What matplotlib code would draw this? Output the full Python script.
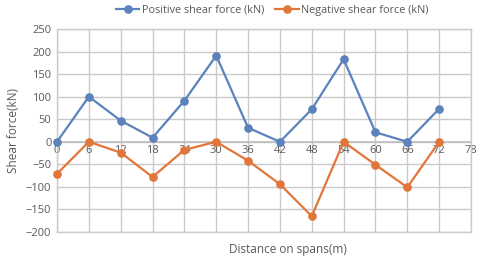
import matplotlib
matplotlib.use("Agg")
import matplotlib.pyplot as plt

distance = [0, 6, 12, 18, 24, 30, 36, 42, 48, 54, 60, 66, 72]
positive = [0, 100, 47, 9, 91, 191, 31, 0, 72, 183, 21, 0, 73]
negative = [-71, 0, -24, -78, -18, 0, -42, -94, -165, 0, -51, -101, 0]
x_ticks = list(range(0, 79, 6))
y_ticks = list(range(-200, 251, 50))

plt.rcParams['font.family'] = ['Open Sans', 'DejaVu Sans']
grey_text = '#595959'
blue = '#5B82BC'
orange = '#E2763A'

fig = plt.figure(figsize=(4.8, 2.6), dpi=100)
ax = fig.add_axes([57/480, 1-232/260, (471-57)/480, (232-29)/260])

ax.plot(distance, positive, color=blue, lw=1.6, marker='o', ms=5.2,
        label='Positive shear force (kN)', zorder=3, clip_on=False)
ax.plot(distance, negative, color=orange, lw=1.6, marker='o', ms=5.2,
        label='Negative shear force (kN)', zorder=3, clip_on=False)

ax.set_xlim(0, 78)
ax.set_ylim(-200, 250)
ax.set_xticks(x_ticks)
ax.set_yticks(y_ticks)
ax.grid(True, color='#CACACA', lw=1.0)
ax.set_axisbelow(True)
for s in ax.spines.values():
    s.set_color('#CACACA')
    s.set_linewidth(1.0)
ax.axhline(0, color='#BFBFBF', lw=1.2, zorder=1)

ax.tick_params(axis='both', length=0, labelsize=8, colors=grey_text)
ax.tick_params(axis='y', pad=4)
ax.set_xticklabels([])
for xt in x_ticks:
    ax.text(xt, -7, str(xt), ha='center', va='top', fontsize=8, color=grey_text, zorder=2)

ax.set_ylabel('Shear force(kN)', fontsize=8.5, color=grey_text, labelpad=4)
fig.text(288/480, 1-250/260, 'Distance on spans(m)', ha='center', va='center',
         fontsize=8.5, color=grey_text)

leg = fig.legend(loc='center', bbox_to_anchor=(272/480, 1-10/260), ncol=2,
                 frameon=False, fontsize=7.8, handlelength=2.2, columnspacing=1.0,
                 handletextpad=0.2, labelcolor=grey_text)

fig.savefig('out.png', dpi=100)
